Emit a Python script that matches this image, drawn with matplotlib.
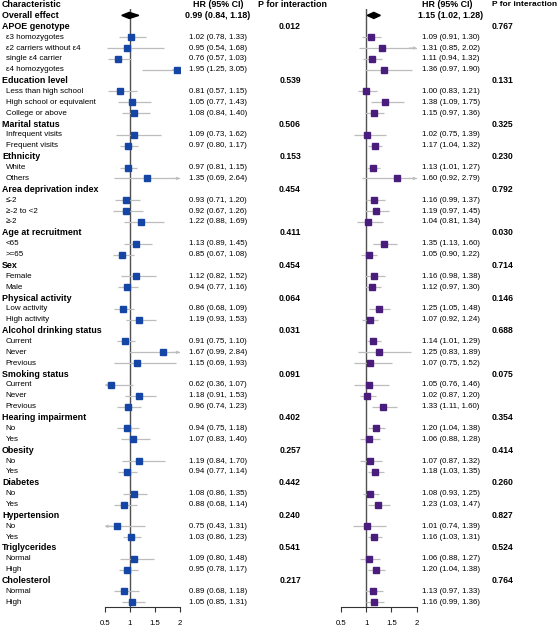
import matplotlib
matplotlib.use("Agg")
import matplotlib.pyplot as plt
import matplotlib.transforms as mtransforms

plt.rcParams['font.family'] = ['Liberation Sans', 'DejaVu Sans']

# ---- data ----
groups = ["APOE genotype", "Education level", "Marital status", "Ethnicity",
          "Area deprivation index", "Age at recruitment", "Sex", "Physical activity",
          "Alcohol drinking status", "Smoking status", "Hearing impairment", "Obesity",
          "Diabetes", "Hypertension", "Triglycerides", "Cholesterol"]
sublabels = [
    ["ε3 homozygotes", "ε2 carriers without ε4", "single ε4 carrier", "ε4 homozygotes"],
    ["Less than high school", "High school or equivalent", "College or above"],
    ["Infrequent visits", "Frequent visits"],
    ["White", "Others"],
    ["≤-2", "≥-2 to <2", "≥-2"],
    ["<65", ">=65"],
    ["Female", "Male"],
    ["Low activity", "High activity"],
    ["Current", "Never", "Previous"],
    ["Current", "Never", "Previous"],
    ["No", "Yes"],
    ["No", "Yes"],
    ["No", "Yes"],
    ["No", "Yes"],
    ["Normal", "High"],
    ["Normal", "High"],
]
p_left = ["0.012", "0.539", "0.506", "0.153", "0.454", "0.411", "0.454", "0.064",
          "0.031", "0.091", "0.402", "0.257", "0.442", "0.240", "0.541", "0.217"]
p_right = ["0.767", "0.131", "0.325", "0.230", "0.792", "0.030", "0.714", "0.146",
           "0.688", "0.075", "0.354", "0.414", "0.260", "0.827", "0.524", "0.764"]

overall_left = (0.99, 0.84, 1.18)
overall_right = (1.15, 1.02, 1.28)

hr_left = [1.02, 0.95, 0.76, 1.95, 0.81, 1.05, 1.08, 1.09, 0.97, 0.97, 1.35,
           0.93, 0.92, 1.22, 1.13, 0.85, 1.12, 0.94, 0.86, 1.19, 0.91, 1.67, 1.15,
           0.62, 1.18, 0.96, 0.94, 1.07, 1.19, 0.94, 1.08, 0.88, 0.75, 1.03,
           1.09, 0.95, 0.89, 1.05]
lo_left = [0.78, 0.54, 0.57, 1.25, 0.57, 0.77, 0.84, 0.73, 0.80, 0.81, 0.69,
           0.71, 0.67, 0.88, 0.89, 0.67, 0.82, 0.77, 0.68, 0.93, 0.75, 0.99, 0.69,
           0.36, 0.91, 0.74, 0.75, 0.83, 0.84, 0.77, 0.86, 0.68, 0.43, 0.86,
           0.80, 0.78, 0.68, 0.85]
hi_left = [1.33, 1.68, 1.03, 3.05, 1.15, 1.43, 1.40, 1.62, 1.17, 1.15, 2.64,
           1.20, 1.26, 1.69, 1.45, 1.08, 1.52, 1.16, 1.09, 1.53, 1.10, 2.84, 1.93,
           1.07, 1.53, 1.23, 1.18, 1.40, 1.70, 1.14, 1.35, 1.14, 1.31, 1.23,
           1.48, 1.17, 1.18, 1.31]

hr_right = [1.09, 1.31, 1.11, 1.36, 1.00, 1.38, 1.15, 1.02, 1.17, 1.13, 1.60,
            1.16, 1.19, 1.04, 1.35, 1.05, 1.16, 1.12, 1.25, 1.07, 1.14, 1.25, 1.07,
            1.05, 1.02, 1.33, 1.20, 1.06, 1.07, 1.18, 1.08, 1.23, 1.01, 1.16,
            1.06, 1.20, 1.13, 1.16]
lo_right = [0.91, 0.85, 0.94, 0.97, 0.83, 1.09, 0.97, 0.75, 1.04, 1.01, 0.92,
            0.99, 0.97, 0.81, 1.13, 0.90, 0.98, 0.97, 1.05, 0.92, 1.01, 0.83, 0.75,
            0.76, 0.87, 1.11, 1.04, 0.88, 0.87, 1.03, 0.93, 1.03, 0.74, 1.03,
            0.88, 1.04, 0.97, 0.99]
hi_right = [1.30, 2.02, 1.32, 1.90, 1.21, 1.75, 1.36, 1.39, 1.32, 1.27, 2.79,
            1.37, 1.45, 1.34, 1.60, 1.22, 1.38, 1.30, 1.48, 1.24, 1.29, 1.89, 1.52,
            1.46, 1.20, 1.60, 1.38, 1.28, 1.32, 1.35, 1.25, 1.47, 1.39, 1.31,
            1.27, 1.38, 1.33, 1.36]

xticks = [0.5, 1, 1.5, 2]
xticklabels = ["0.5", "1", "1.5", "2"]

# ---- layout ----
W, H = 560, 626
fig = plt.figure(figsize=(W / 100, H / 100), dpi=100)

BLUE = '#1546a6'
PURPLE = '#4a1c7c'
CI_GREY = '#bdbdbd'
REF = '#505050'

row_top, row_bot = 0.41, 55.43
ax_bottom = (H - 607) / H
ax_height = (607 - 9) / H


def make_axis(left_px, right_px):
    ax = fig.add_axes([left_px / W, ax_bottom, (right_px - left_px) / W, ax_height])
    ax.set_xlim(0.5, 2)
    ax.set_ylim(row_bot, row_top)
    for s in ['top', 'right', 'left']:
        ax.spines[s].set_visible(False)
    ax.spines['bottom'].set_color('#333333')
    ax.spines['bottom'].set_linewidth(0.8)
    ax.set_yticks([])
    ax.set_xticks(xticks)
    ax.set_xticklabels(xticklabels, fontsize=5.6)
    ax.tick_params(axis='x', length=3.6, width=0.8, color='#333333', pad=6)
    ax.patch.set_visible(False)
    ax.axvline(1, color=REF, lw=1.0, zorder=1)
    return ax


axL = make_axis(104.7, 180.0)
axR = make_axis(341.0, 416.7)

trans = mtransforms.blended_transform_factory(fig.transFigure, axL.transData)


def txt(xpx, row, s, bold=False, size=5.7, ha='left'):
    fig.text(xpx / W, row, s, transform=trans, fontsize=size,
             fontweight='bold' if bold else 'normal', ha=ha, va='center')


def draw_row(ax, row, hr, lo, hi, color):
    lo_c, hi_c = max(lo, 0.5), min(hi, 2.0)
    ax.plot([lo_c, hi_c], [row, row], color=CI_GREY, lw=0.9, zorder=2,
            solid_capstyle='butt')
    if hi > 2.0:
        ax.annotate('', xy=(2.0, row), xytext=(1.85, row),
                    arrowprops=dict(arrowstyle='->', color=CI_GREY, lw=0.8,
                                    shrinkA=0, shrinkB=0, mutation_scale=4),
                    annotation_clip=False)
    if lo < 0.5:
        ax.annotate('', xy=(0.5, row), xytext=(0.65, row),
                    arrowprops=dict(arrowstyle='->', color=CI_GREY, lw=0.8,
                                    shrinkA=0, shrinkB=0, mutation_scale=4),
                    annotation_clip=False)
    ax.plot(hr, row, marker='s', ms=3.9, color=color, mec=color, zorder=3)


def ci_text(hr, lo, hi):
    return f"{hr:.2f} ({lo:.2f}, {hi:.2f})"


# header
txt(2, 0, "Characteristic", bold=True, size=6.4)
txt(218.5, 0, "HR (95% CI)", bold=True, size=6.4, ha='center')
txt(292, 0, "P for interaction", bold=True, size=6.4, ha='center')
txt(447.5, 0, "HR (95% CI)", bold=True, size=6.4, ha='center')
txt(492, 0, "P for interaction", bold=True, size=6.0)

# overall effect
row = 1
txt(2, row, "Overall effect", bold=True, size=6.4)
for ax, ov, xc in [(axL, overall_left, 218), (axR, overall_right, 451)]:
    hr, lo, hi = ov
    ax.fill([lo, hr, hi, hr], [row, row - 0.28, row, row + 0.28],
            color='black', zorder=4)
    txt(xc, row, ci_text(hr, lo, hi), bold=True, size=6.4, ha='center')

k = 0
for g, name in enumerate(groups):
    row += 1
    txt(2, row, name, bold=True, size=6.4)
    txt(290, row, p_left[g], bold=True, size=6.2, ha='center')
    txt(492, row, p_right[g], bold=True, size=6.2)
    for lab in sublabels[g]:
        row += 1
        txt(5.5, row, lab, size=5.8)
        draw_row(axL, row, hr_left[k], lo_left[k], hi_left[k], BLUE)
        draw_row(axR, row, hr_right[k], lo_right[k], hi_right[k], PURPLE)
        txt(218, row, ci_text(hr_left[k], lo_left[k], hi_left[k]), ha='center')
        txt(451, row, ci_text(hr_right[k], lo_right[k], hi_right[k]), ha='center')
        k += 1

fig.savefig("out.png", dpi=100)
